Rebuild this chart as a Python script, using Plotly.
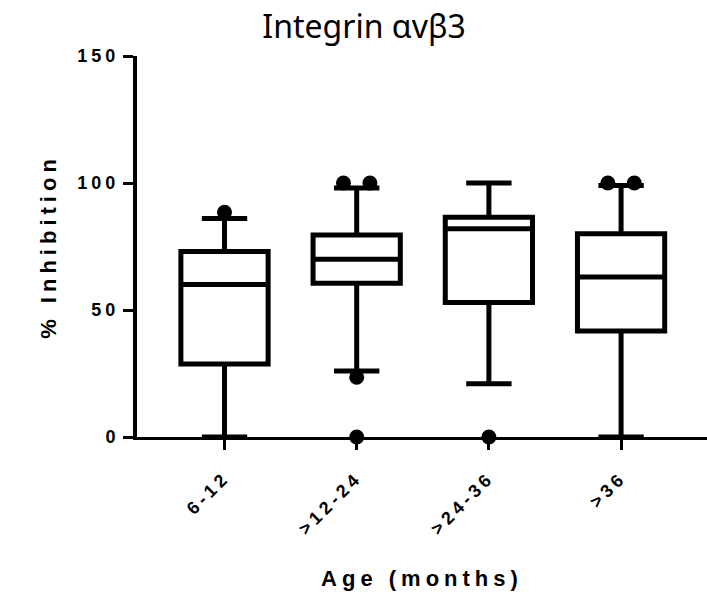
import plotly.graph_objects as go

# ---- data ----
categories = ["6-12", ">12-24", ">24-36", ">36"]
q1_values = [28.7, 60.5, 53.0, 41.7]
median_values = [60.0, 70.0, 82.0, 63.0]
q3_values = [73.0, 79.5, 86.5, 80.0]
lower_whisker = [0.0, 26.0, 21.0, 0.0]
upper_whisker = [86.0, 98.0, 100.0, 99.0]
outlier_group = [0, 1, 1, 1, 1, 2, 3, 3]
outlier_values = [88.5, 100.0, 100.0, 23.5, 0.0, 0.0, 100.0, 100.0]
y_ticks = [0, 50, 100, 150]

positions = list(range(len(categories)))

# spread identical outliers of one group side by side
outlier_x = []
for i, (g, v) in enumerate(zip(outlier_group, outlier_values)):
    same = [j for j, (g2, v2) in enumerate(zip(outlier_group, outlier_values)) if g2 == g and v2 == v]
    k = same.index(i)
    n = len(same)
    outlier_x.append(g + (k - (n - 1) / 2) * 0.2)

AX_FONT = dict(family="Arial, Liberation Sans, sans-serif", size=18, color="black", weight="bold")
TITLE_FONT = dict(family="Arial, Liberation Sans, sans-serif", size=22, color="black", weight="bold")

fig = go.Figure()
fig.add_trace(go.Box(
    x=positions,
    q1=q1_values,
    median=median_values,
    q3=q3_values,
    lowerfence=lower_whisker,
    upperfence=upper_whisker,
    width=0.66,
    whiskerwidth=0.52,
    boxpoints=False,
    line=dict(color="black", width=5),
    fillcolor="white",
    showlegend=False,
    hoverinfo="skip",
))
fig.add_trace(go.Scatter(
    x=outlier_x,
    y=outlier_values,
    mode="markers",
    marker=dict(color="black", size=15),
    cliponaxis=False,
    showlegend=False,
    hoverinfo="skip",
))

fig.update_layout(
    width=707,
    height=599,
    margin=dict(l=137, r=0, t=56, b=162),
    paper_bgcolor="white",
    plot_bgcolor="white",
    title=dict(
        text="Integrin \u03b1v\u03b23",
        font=dict(family="Noto Sans, Open Sans, sans-serif", size=32, color="black"),
        xref="container", x=0.515, xanchor="center",
        yref="container", y=1 - 27 / 599, yanchor="middle",
    ),
    xaxis=dict(
        range=[-0.662, 3.65],
        tickmode="array",
        tickvals=positions,
        ticktext=categories,
        tickangle=-45,
        ticks="outside",
        ticklen=10,
        tickwidth=3,
        tickcolor="black",
        showline=True,
        linecolor="black",
        linewidth=3,
        showgrid=False,
        zeroline=False,
        tickfont=AX_FONT,
        ticklabelstandoff=10,
        title=dict(text="Age (months)", font=TITLE_FONT, standoff=50),
        automargin=False,
    ),
    yaxis=dict(
        range=[0, 150],
        tickmode="array",
        tickvals=y_ticks,
        ticks="outside",
        ticklen=10,
        tickwidth=3,
        tickcolor="black",
        showline=True,
        linecolor="black",
        linewidth=4,
        showgrid=False,
        zeroline=False,
        tickfont=AX_FONT,
        title=dict(text="% Inhibition", font=TITLE_FONT, standoff=28),
        automargin=False,
    ),
)

post = """
document.body.style.margin = '0';
var gd = document.getElementById('{plot_id}');
function spacing(){
  document.querySelectorAll('.xtick text, .ytick text').forEach(function(e){e.style.letterSpacing='4px';});
  document.querySelectorAll('.g-xtitle text, .g-ytitle text').forEach(function(e){e.style.letterSpacing='5px';});
}
spacing();
if (gd && gd.on) { gd.on('plotly_afterplot', spacing); }
setTimeout(spacing, 50);
"""

fig.write_html("out.html", post_script=post, config={"displayModeBar": False})
